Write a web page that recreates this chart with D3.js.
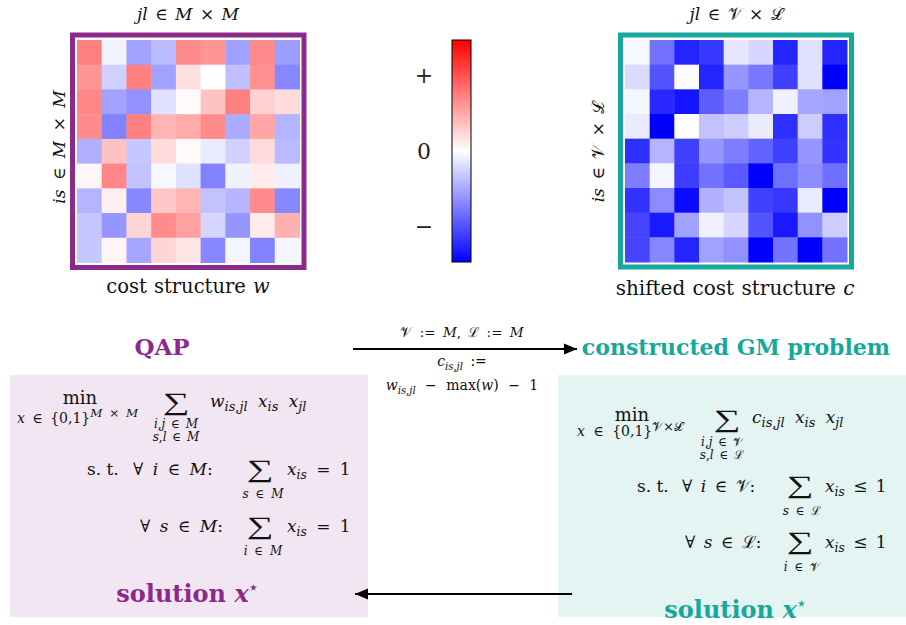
<!DOCTYPE html>
<html>
<head>
<meta charset="utf-8">
<script src="https://cdn.jsdelivr.net/npm/d3@7.9.0/dist/d3.min.js"></script>
<style>
  html, body { margin: 0; padding: 0; background: #fff; }
  svg text { font-family: "DejaVu Serif", "Liberation Serif", serif; white-space: pre; fill: #111; }
</style>
</head>
<body>
<svg id="fig" width="906" height="625"></svg>
<script>
// cost structure w (rows i,s / cols j,l)
const costW = [
  [ 0.50, -0.05, -0.37, -0.27,  0.45,  0.41, -0.37,  0.45, -0.38],
  [ 0.41, -0.18,  0.50, -0.37,  0.12,  0.00, -0.25,  0.43, -0.47],
  [ 0.47, -0.37, -0.43, -0.12,  0.02,  0.24,  0.50,  0.18,  0.14],
  [ 0.45, -0.49,  0.50,  0.29,  0.33,  0.45, -0.33,  0.35, -0.29],
  [-0.31,  0.24, -0.22,  0.14,  0.02, -0.08, -0.18,  0.14, -0.27],
  [ 0.04,  0.47, -0.24, -0.03, -0.12, -0.49, -0.06,  0.08, -0.06],
  [-0.29,  0.06, -0.47,  0.22,  0.29, -0.24, -0.29,  0.45, -0.47],
  [-0.22, -0.41,  0.16,  0.45,  0.37, -0.16, -0.41,  0.08,  0.31],
  [-0.22,  0.04, -0.35,  0.16,  0.10, -0.47, -0.04, -0.49, -0.04]
];

// shifted cost structure c (normalised)
const costC = [
  [-0.03, -0.55, -0.86, -0.78, -0.10, -0.16, -0.86, -0.12, -0.86],
  [-0.14, -0.67, -0.01, -0.86, -0.41, -0.53, -0.75, -0.12, -1.00],
  [-0.04, -0.84, -0.92, -0.63, -0.51, -0.29, -0.06, -0.35, -0.37],
  [-0.08, -1.00,  0.00, -0.24, -0.20, -0.08, -0.82, -0.20, -0.82],
  [-0.82, -0.29, -0.75, -0.41, -0.51, -0.61, -0.75, -0.41, -0.80],
  [-0.51, -0.04, -0.76, -0.55, -0.65, -1.00, -0.57, -0.45, -0.57],
  [-0.80, -0.45, -0.96, -0.31, -0.24, -0.75, -0.78, -0.08, -1.00],
  [-0.73, -0.90, -0.37, -0.06, -0.16, -0.67, -0.90, -0.43, -0.20],
  [-0.73, -0.47, -0.86, -0.37, -0.43, -1.00, -0.55, -1.00, -0.55]
];

const cbTickValues = [0.68, 0, -0.68];
const cbTickLabels = ["+", "0", "\u2212"];

const purple = "#8c2a8c";
const teal = "#17a89b";
const SV = "\u{1D4B1}", SL = "\u2112";

const svg = d3.select("#fig");
const color = d3.scaleLinear().domain([-1, 0, 1]).range(["#0000ff", "#ffffff", "#ff0000"]);

// tiny math markup: _{..} sub, ^{..} sup, \r{..} roman; latin letters italic
function parseMath(str) {
  const segs = [];
  const stack = [{ lv: 0, rm: false }];
  let i = 0;
  const push = (ch, it, lv) => {
    const last = segs[segs.length - 1];
    if (last && last.it === it && last.lv === lv) last.t += ch;
    else segs.push({ t: ch, it, lv });
  };
  while (i < str.length) {
    const top = stack[stack.length - 1];
    const c2 = str.slice(i, i + 2), c3 = str.slice(i, i + 3);
    if (c2 === "_{") { stack.push({ lv: -1, rm: top.rm }); i += 2; continue; }
    if (c2 === "^{") { stack.push({ lv: 1, rm: top.rm }); i += 2; continue; }
    if (c3 === "\\r{") { stack.push({ lv: top.lv, rm: true }); i += 3; continue; }
    if (str[i] === "}" && stack.length > 1) { stack.pop(); i++; continue; }
    const ch = String.fromCodePoint(str.codePointAt(i));
    push(ch, !top.rm && /[a-zA-Z]/.test(ch), top.lv);
    i += ch.length;
  }
  return segs;
}

function tex(x, y, str, size, opt = {}) {
  const t = svg.append("text")
    .attr("x", x).attr("y", y)
    .attr("text-anchor", opt.anchor || "start")
    .attr("font-weight", opt.bold ? "bold" : "normal")
    .style("word-spacing", (opt.ws || 0) + "px")
    .style("fill", opt.fill || "#111");
  if (opt.transform) t.attr("transform", opt.transform).attr("x", 0).attr("y", 0);
  let off = 0;
  const sc = opt.scriptScale || 0.72;
  parseMath(str).forEach(s => {
    const target = s.lv < 0 ? size * (opt.subDrop || 0.25) : s.lv > 0 ? -size * (opt.supRise || 0.4) : 0;
    t.append("tspan")
      .attr("dy", target - off)
      .attr("font-size", s.lv === 0 ? size : size * sc)
      .attr("font-style", s.it ? "italic" : "normal")
      .text(s.t);
    off = target;
  });
  return t;
}

// big operator, stretched wide like the TeX display sum
function sigma(x, y) {
  svg.append("text").attr("transform", `translate(${x},${y}) scale(1.5,1)`)
    .attr("text-anchor", "middle")
    .style("font-family", "'Liberation Serif', serif")
    .attr("font-size", 25).text("\u2211");
}

function heatmap(data, x0, y0, size, borderColor) {
  const xs = d3.scaleBand().domain(d3.range(data[0].length)).range([x0, x0 + size]);
  const ys = d3.scaleBand().domain(d3.range(data.length)).range([y0, y0 + size]);
  const g = svg.append("g");
  g.append("rect")
    .attr("x", x0 - 4.5).attr("y", y0 - 5)
    .attr("width", size + 9).attr("height", size + 10)
    .attr("fill", "#fff").attr("stroke", borderColor).attr("stroke-width", 5);
  data.forEach((row, r) => row.forEach((v, c) => {
    g.append("rect")
      .attr("x", xs(c)).attr("y", ys(r))
      .attr("width", xs.bandwidth() + 0.5).attr("height", ys.bandwidth() + 0.5)
      .attr("fill", color(v));
  }));
}

// background boxes
svg.append("rect").attr("x", 10).attr("y", 375).attr("width", 358).attr("height", 242).attr("fill", "#f3e6f3");
svg.append("rect").attr("x", 558).attr("y", 375).attr("width", 348).attr("height", 242).attr("fill", "#e3f4f3");

// heatmaps
heatmap(costW, 77, 40, 222.5, purple);
heatmap(costC, 625, 40, 222, teal);

// colorbar
const defs = svg.append("defs");
const grad = defs.append("linearGradient").attr("id", "cb").attr("x1", 0).attr("y1", 1).attr("x2", 0).attr("y2", 0);
d3.range(-1, 1.001, 0.25).forEach(v => {
  grad.append("stop").attr("offset", (v + 1) / 2).attr("stop-color", color(v));
});
const cbY = d3.scaleLinear().domain([-1, 1]).range([262, 40]);
svg.append("rect").attr("x", 452).attr("y", cbY(1)).attr("width", 19).attr("height", cbY(-1) - cbY(1))
  .attr("fill", "url(#cb)").attr("stroke", "#000").attr("stroke-width", 1);
svg.selectAll(".cbt").data(cbTickValues).join("text")
  .attr("class", "cbt")
  .attr("x", 424).attr("y", d => cbY(d)).attr("dy", "0.36em")
  .attr("text-anchor", "middle").attr("font-size", 22)
  .style("fill", "#222")
  .text((d, i) => cbTickLabels[i]);

// heatmap labels
tex(188, 20, "jl \u2208 M \u00D7 M", 17, { anchor: "middle", ws: 2 });
tex(736, 20, `jl \u2208 ${SV} \u00D7 ${SL}`, 17, { anchor: "middle", ws: 2 });
tex(0, 0, "is \u2208 M \u00D7 M", 17, { anchor: "middle", ws: 4, transform: "translate(65,147) rotate(-90)" });
tex(0, 0, `is \u2208 ${SV} \u00D7 ${SL}`, 17, { anchor: "middle", ws: 3, transform: "translate(604,152) rotate(-90)" });
tex(188, 293, "\\r{cost structure} w", 19.5, { anchor: "middle", ws: 1 });
tex(735, 295, "\\r{shifted cost structure} c", 20, { anchor: "middle", ws: 1 });

// problem titles
tex(162, 355, "\\r{QAP}", 23, { anchor: "middle", bold: true, fill: purple });
tex(736, 355, "\\r{constructed GM problem}", 22, { anchor: "middle", bold: true, fill: teal });

// arrows
defs.append("marker").attr("id", "ah").attr("viewBox", "0 0 10 10").attr("refX", 10).attr("refY", 5)
  .attr("markerWidth", 6.5).attr("markerHeight", 6.5).attr("markerUnits", "strokeWidth").attr("orient", "auto")
  .append("path").attr("d", "M0,0.8 L10,5 L0,9.2 Z").attr("fill", "#000");
svg.append("line").attr("x1", 353).attr("y1", 349).attr("x2", 577).attr("y2", 349)
  .attr("stroke", "#000").attr("stroke-width", 2).attr("marker-end", "url(#ah)");
svg.append("line").attr("x1", 572).attr("y1", 594).attr("x2", 355).attr("y2", 594)
  .attr("stroke", "#000").attr("stroke-width", 2).attr("marker-end", "url(#ah)");

tex(462, 337, `${SV} := M, ${SL} := M`, 13.5, { anchor: "middle", ws: 3 });
tex(462, 366, "c_{is,jl} :=", 14, { anchor: "middle", ws: 3 });
tex(462, 390, "w_{is,jl} \u2212 \\r{max}(w) \u2212 1", 14, { anchor: "middle", ws: 5 });

// QAP formulation
tex(80, 404, "\\r{min}", 18, { anchor: "middle" });
tex(17, 423, "x \u2208 {0,1}^{M \u00D7 M}", 14, { scriptScale: 0.85, supRise: 0.4, ws: 3 });
sigma(176, 410);
tex(210, 407, "w_{is,jl} x_{is} x_{jl}", 17, { ws: 5, scriptScale: 0.76 });
tex(176, 428, "i,j \u2208 M", 12, { anchor: "middle", ws: 2 });
tex(176, 441, "s,l \u2208 M", 12, { anchor: "middle", ws: 2 });

tex(87, 475, "\\r{s. t.}", 17);
tex(133, 475, "\u2200 i \u2208 M:", 17, { ws: 4 });
sigma(260, 477);
tex(287, 475, "x_{is} = 1", 17, { ws: 4 });
tex(263, 498, "s \u2208 M", 12, { anchor: "middle", ws: 3 });

tex(140, 532, "\u2200 s \u2208 M:", 17, { ws: 4 });
sigma(260, 534);
tex(287, 532, "x_{is} = 1", 17, { ws: 4 });
tex(263, 555, "i \u2208 M", 12, { anchor: "middle", ws: 3 });

tex(187, 602, "\\r{solution} x^{\u22C6}", 24, { anchor: "middle", bold: true, fill: purple, scriptScale: 0.6 });

// GM formulation
tex(632, 421, "\\r{min}", 18, { anchor: "middle" });
tex(577, 436, `x \u2208 {0,1}^{${SV}\u00D7${SL}}`, 14, { scriptScale: 0.9, supRise: 0.35, ws: 4 });
sigma(727, 427);
tex(752, 423, "c_{is,jl} x_{is} x_{jl}", 17, { ws: 5, scriptScale: 0.76 });
tex(722, 446, `i,j \u2208 ${SV}`, 12, { anchor: "middle", ws: 2 });
tex(722, 459, `s,l \u2208 ${SL}`, 12, { anchor: "middle", ws: 2 });

tex(637, 492, "\\r{s. t.}", 17);
tex(682, 492, `\u2200 i \u2208 ${SV}:`, 17, { ws: 3 });
sigma(800, 493);
tex(825, 492, "x_{is} \u2264 1", 17, { ws: 3 });
tex(802, 515, `s \u2208 ${SL}`, 12, { anchor: "middle", ws: 3 });

tex(685, 548, `\u2200 s \u2208 ${SL}:`, 17, { ws: 3 });
sigma(800, 549);
tex(825, 548, "x_{is} \u2264 1", 17, { ws: 3 });
tex(802, 571, `i \u2208 ${SV}`, 12, { anchor: "middle", ws: 3 });

tex(735, 618, "\\r{solution} x^{\u22C6}", 24, { anchor: "middle", bold: true, fill: teal, scriptScale: 0.6 });
</script>
</body>
</html>
